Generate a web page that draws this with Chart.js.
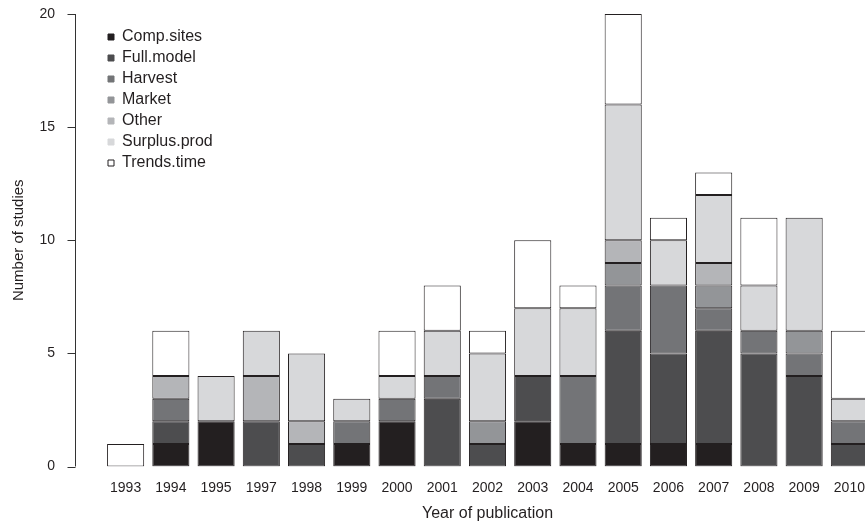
<!DOCTYPE html>
<html>
<head>
<meta charset="utf-8">
<script src="https://cdn.jsdelivr.net/npm/chart.js@4/dist/chart.umd.min.js"></script>
<style>
  html, body { margin: 0; padding: 0; background: #fff; overflow: hidden; }
  #wrap { width: 876px; height: 524px; }
</style>
</head>
<body>
<div id="wrap"><canvas id="studyChart"></canvas></div>
<script>
const years = ['1993', '1994', '1995', '1997', '1998', '1999', '2000', '2001', '2002',
               '2003', '2004', '2005', '2006', '2007', '2008', '2009', '2010'];
const compSites   = [0, 1, 2, 0, 0, 1, 2, 0, 0, 2, 1, 1, 1, 1, 0, 0, 0];
const fullModel   = [0, 1, 0, 2, 1, 0, 0, 3, 1, 2, 0, 5, 4, 5, 5, 4, 1];
const harvest     = [0, 1, 0, 0, 0, 1, 1, 1, 0, 0, 3, 2, 3, 1, 1, 1, 1];
const market      = [0, 0, 0, 0, 0, 0, 0, 0, 1, 0, 0, 1, 0, 1, 0, 1, 0];
const other       = [0, 1, 0, 2, 1, 0, 0, 0, 0, 0, 0, 1, 0, 1, 0, 0, 0];
const surplusProd = [0, 0, 2, 2, 3, 1, 1, 2, 3, 3, 3, 6, 2, 3, 2, 5, 1];
const trendsTime  = [1, 2, 0, 0, 0, 0, 2, 2, 1, 3, 1, 4, 1, 1, 3, 0, 3];
const yTicks = [0, 5, 10, 15, 20];

Chart.defaults.font.family = '"Liberation Sans", Arial, sans-serif';
Chart.defaults.color = '#231f20';

const edge = '#231f20';
function series(label, data, color) {
    return {
        label: label,
        data: data,
        backgroundColor: color,
        borderColor: edge,
        borderWidth: 1,
        borderSkipped: false
    };
}

// R style y axis: line and ticks sit a little left of the plot region
const offsetAxis = {
    id: 'offsetAxis',
    afterDraw(chart) {
        const y = chart.scales.y;
        const ctx = chart.ctx;
        const ax = chart.chartArea.left - 27.5;
        ctx.save();
        ctx.strokeStyle = '#333';
        ctx.lineWidth = 1;
        ctx.beginPath();
        ctx.moveTo(ax, y.getPixelForValue(yTicks[0]));
        ctx.lineTo(ax, y.getPixelForValue(yTicks[yTicks.length - 1]));
        yTicks.forEach(t => {
            const py = Math.round(y.getPixelForValue(t)) + 0.5;
            ctx.moveTo(ax - 8, py);
            ctx.lineTo(ax, py);
        });
        ctx.stroke();
        ctx.restore();
    }
};

const studyChart = new Chart(document.getElementById('studyChart'), {
    type: 'bar',
    data: {
        labels: years,
        datasets: [
            series('Comp.sites', compSites, '#231f20'),
            series('Full.model', fullModel, '#4d4d4f'),
            series('Harvest', harvest, '#737477'),
            series('Market', market, '#939598'),
            series('Other', other, '#b4b5b8'),
            series('Surplus.prod', surplusProd, '#d7d8da'),
            series('Trends.time', trendsTime, '#ffffff')
        ]
    },
    options: {
        responsive: true,
        maintainAspectRatio: false,
        animation: false,
        events: [],
        layout: { padding: { top: 14, right: 4, left: 0, bottom: 0 } },
        datasets: { bar: { barPercentage: 0.82, categoryPercentage: 1 } },
        plugins: {
            tooltip: { enabled: false },
            legend: {
                position: 'chartArea',
                fullSize: false,
                align: 'start',
                // empty title just pushes the key down a bit
                title: { display: true, text: '', font: { size: 5 }, padding: { top: 0, bottom: 18 } },
                labels: {
                    usePointStyle: true,
                    pointStyle: 'rect',
                    boxWidth: 6,
                    boxHeight: 6,
                    padding: 5,
                    color: '#231f20',
                    font: { size: 16 },
                    generateLabels(chart) {
                        const items = Chart.defaults.plugins.legend.labels.generateLabels(chart);
                        items.forEach(it => {
                            if (it.fillStyle !== '#ffffff') it.strokeStyle = it.fillStyle;
                            it.lineWidth = 1;
                        });
                        return items;
                    }
                }
            }
        },
        scales: {
            x: {
                stacked: true,
                grid: { display: false },
                border: { display: false },
                ticks: { padding: 5, maxRotation: 0, autoSkip: false, font: { size: 14 }, color: '#231f20' },
                title: { display: true, text: 'Year of publication', font: { size: 16 }, padding: 0.6, color: '#231f20' },
                afterFit(scale) { scale.height = 57.5; }
            },
            y: {
                stacked: true,
                min: 0,
                max: 20,
                grid: { display: false, drawTicks: false },
                border: { display: false },
                ticks: { stepSize: 5, padding: 48, font: { size: 14 }, color: '#231f20' },
                title: { display: true, text: 'Number of studies', font: { size: 15 }, padding: 10, color: '#231f20' },
                afterFit(scale) {
                    scale.width = 103;
                    // tick padding is only meant to push labels sideways
                    scale.paddingTop = 8;
                    scale.paddingBottom = 8;
                }
            }
        }
    },
    plugins: [offsetAxis]
});
</script>
</body>
</html>
